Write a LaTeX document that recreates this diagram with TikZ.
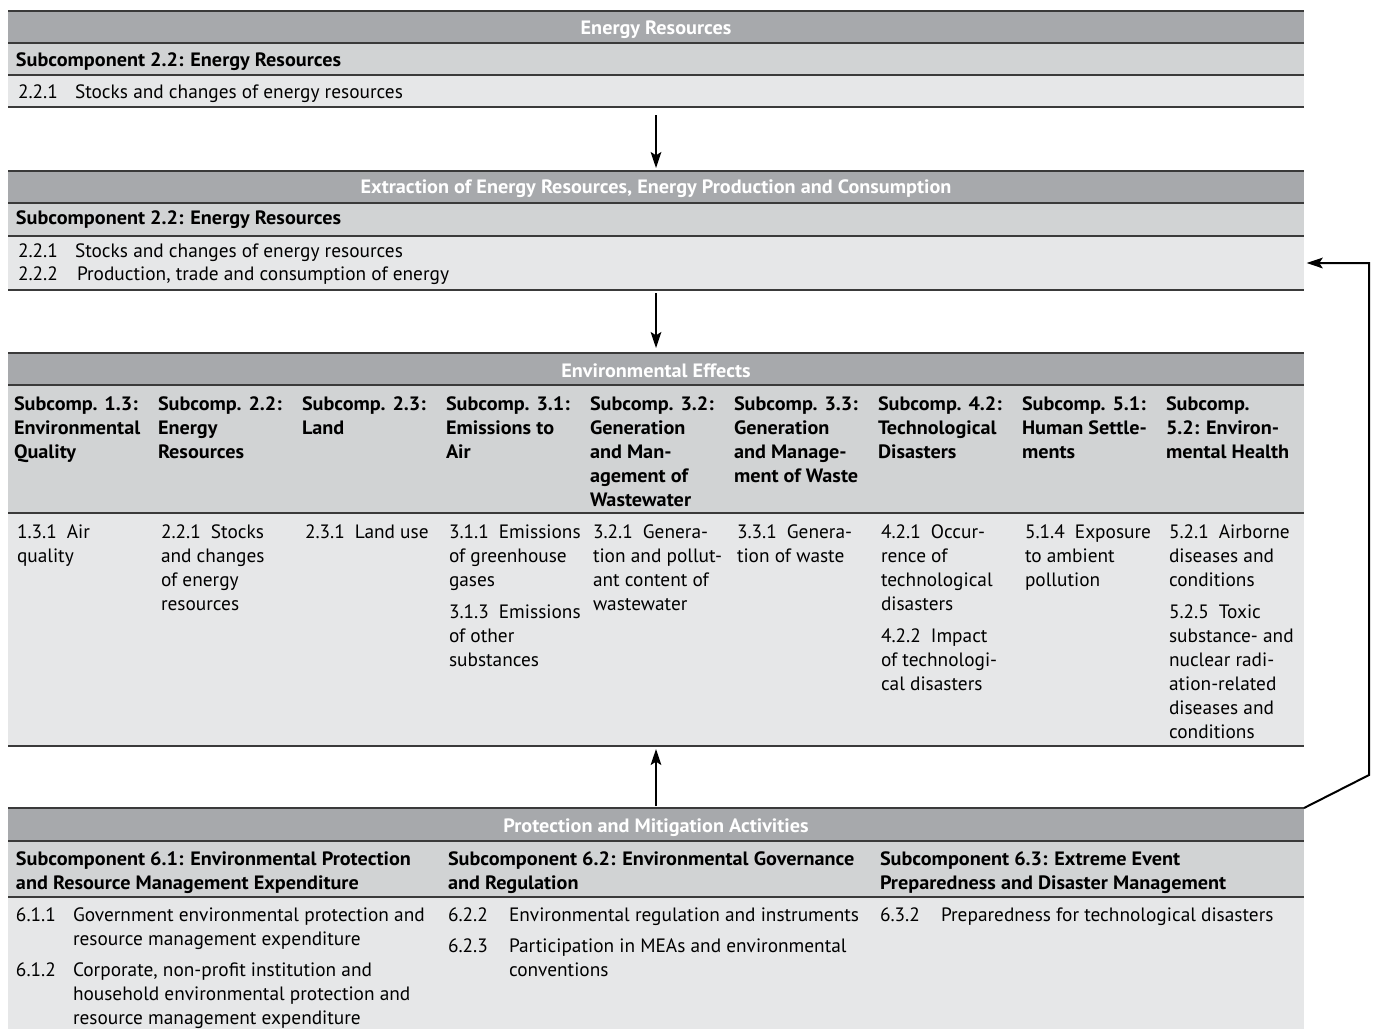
\documentclass[tikz,border=0pt]{standalone}
\usepackage{fontspec}
\setmainfont{PT Sans}[BoldFeatures={FakeStretch=1.046}]
\usetikzlibrary{arrows.meta}

\definecolor{bandgray}{HTML}{A7A9AC}
\definecolor{subgray}{HTML}{D1D3D4}
\definecolor{itemgray}{HTML}{E6E7E8}
\definecolor{rulegray}{HTML}{3A3A3A}

\newcommand\cellstrut{\rule{0pt}{13.5pt}}
\newcommand\numgap{\hspace{7.5pt}}
\newcommand\tabfont{\fontsize{14.5pt}{18pt}\selectfont}

\tikzset{
  rowfill/.style={inner sep=0pt, outer sep=0pt, anchor=north west, minimum width=972pt, draw=none},
  band/.style={rowfill, fill=bandgray},
  subrow/.style={rowfill, fill=subgray},
  itemrow/.style={rowfill, fill=itemgray},
  rowrule/.style={draw=rulegray, line width=1.1pt},
  txt/.style={inner sep=0pt, outer sep=0pt, anchor=base west, font=\tabfont},
  btxt/.style={txt, font=\tabfont\bfseries},
  title/.style={btxt, anchor=base, text=white},
  cell/.style={inner sep=0pt, outer sep=0pt, anchor=north west, align=left, font=\tabfont},
  bcell/.style={cell, font=\tabfont\bfseries},
  flow/.style={draw=black, line width=1.5pt, -{Stealth[length=12pt,width=8pt,inset=2.5pt]}},
}

\begin{document}
\begin{tikzpicture}[x=0.75pt, y=-0.75pt]
\useasboundingbox (0,0) rectangle (1373,1029);

% ---------- Energy Resources ----------
\node[band,    minimum height=24pt] (resH) at (8,11) {};
\node[subrow,  minimum height=24pt] (resS) at (8,43) {};
\node[itemrow, minimum height=24pt] (resI) at (8,75) {};
\node[title] (resT) at (656,34) {Energy Resources};
\node[btxt] (resSt) at (16,66) {Subcomponent 2.2: Energy Resources};
\node[txt] (resN1) at (18,98) {2.2.1};
\node[txt] (resI1) at (75,98) {Stocks and changes of energy resources};

% ---------- Extraction / production / consumption ----------
\node[band,    minimum height=24pt]   (extH) at (8,171) {};
\node[subrow,  minimum height=24.75pt] (extS) at (8,203) {};
\node[itemrow, minimum height=40.5pt] (extI) at (8,236) {};
\node[title] (extT) at (656,193) {Extraction of Energy Resources, Energy Production and Consumption};
\node[btxt] (extSt) at (16,224) {Subcomponent 2.2: Energy Resources};
\node[txt] (extN1) at (18,257) {2.2.1};
\node[txt] (extI1) at (75,257) {Stocks and changes of energy resources};
\node[txt] (extN2) at (18,280) {2.2.2};
\node[txt] (extI2) at (77,280) {Production, trade and consumption of energy};

% ---------- Environmental effects ----------
\node[band,    minimum height=24pt]     (effH) at (8,353) {};
\node[subrow,  minimum height=96pt]     (effS) at (8,385) {};
\node[itemrow, minimum height=174.75pt] (effI) at (8,513) {};
\node[title] (effT) at (656,377) {Environmental Effects};

\node[bcell] (h1) at (14,392)  {\cellstrut Subcomp. 1.3:\\Environmental\\Quality};
\node[bcell] (h2) at (158,392) {\cellstrut Subcomp. 2.2:\\Energy\\Resources};
\node[bcell] (h3) at (302,392) {\cellstrut Subcomp. 2.3:\\Land};
\node[bcell] (h4) at (446,392) {\cellstrut Subcomp. 3.1:\\Emissions to\\Air};
\node[bcell] (h5) at (590,392) {\cellstrut Subcomp. 3.2:\\Generation\\and Man-\\agement of\\Wastewater};
\node[bcell] (h6) at (734,392) {\cellstrut Subcomp. 3.3:\\Generation\\and Manage-\\ment of Waste};
\node[bcell] (h7) at (878,392) {\cellstrut Subcomp. 4.2:\\Technological\\Disasters};
\node[bcell] (h8) at (1022,392) {\cellstrut Subcomp. 5.1:\\Human Settle-\\ments};
\node[bcell] (h9) at (1166,392) {\cellstrut Subcomp.\\5.2: Environ-\\mental Health};

\node[cell] (i1) at (17,520)  {\cellstrut 1.3.1\numgap Air\\quality};
\node[cell] (i2) at (161,520) {\cellstrut 2.2.1\numgap Stocks\\and changes\\of energy\\resources};
\node[cell] (i3) at (305,520) {\cellstrut 2.3.1\numgap Land use};
\node[cell] (i4) at (449,520) {\cellstrut 3.1.1\numgap Emissions\\of greenhouse\\gases\\[6pt]3.1.3\numgap Emissions\\of other\\substances};
\node[cell] (i5) at (593,520) {\cellstrut 3.2.1\numgap Genera-\\tion and pollut-\\ant content of\\wastewater};
\node[cell] (i6) at (737,520) {\cellstrut 3.3.1\numgap Genera-\\tion of waste};
\node[cell] (i7) at (881,520) {\cellstrut 4.2.1\numgap Occur-\\rence of\\technological\\disasters\\[6pt]4.2.2\numgap Impact\\of technologi-\\cal disasters};
\node[cell] (i8) at (1025,520) {\cellstrut 5.1.4\numgap Exposure\\to ambient\\pollution};
\node[cell] (i9) at (1169,520) {\cellstrut 5.2.1\numgap Airborne\\diseases and\\conditions\\[6pt]5.2.5\numgap Toxic\\substance- and\\nuclear radi-\\ation-related\\diseases and\\conditions};

% ---------- Protection and mitigation ----------
\node[band,    minimum height=24.75pt] (proH) at (8,808) {};
\node[subrow,  minimum height=42pt]    (proS) at (8,841) {};
\node[itemrow, minimum height=99pt]    (proI) at (8,897) {};
\node[title] (proT) at (656,832) {Protection and Mitigation Activities};

\node[bcell] (ph1) at (16,847)  {\cellstrut Subcomponent 6.1: Environmental Protection\\and Resource Management Expenditure};
\node[bcell] (ph2) at (448,847) {\cellstrut Subcomponent 6.2: Environmental Governance\\and Regulation};
\node[bcell] (ph3) at (880,847) {\cellstrut Subcomponent 6.3: Extreme Event\\Preparedness and Disaster Management};

\node[txt]  (pn1) at (16,921) {6.1.1};
\node[cell] (pi1) at (73,903) {\cellstrut Government environmental protection and\\resource management expenditure};
\node[txt]  (pn2) at (16,976) {6.1.2};
\node[cell] (pi2) at (73,958) {\cellstrut Corporate, non-profit institution and\\household environmental protection and\\resource management expenditure};
\node[txt]  (pn3) at (448,921) {6.2.2};
\node[txt]  (pi3) at (509,921) {Environmental regulation and instruments};
\node[txt]  (pn4) at (448,952) {6.2.3};
\node[cell] (pi4) at (509,934) {\cellstrut Participation in MEAs and environmental\\conventions};
\node[txt]  (pn5) at (880,921) {6.3.2};
\node[txt]  (pi5) at (941,921) {Preparedness for technological disasters};

% ---------- row rules ----------
\foreach \r in {resH,extH,effH,proH}
  \draw[rowrule] (\r.north west) -- (\r.north east);
\foreach \r in {resH,resS,resI,extH,extS,extI,effH,effS,effI,proH,proS}
  \draw[rowrule] (\r.south west) -- (\r.south east);

% ---------- connectors ----------
\draw[flow, shorten <=6pt, shorten >=2.25pt] (resI.south) -- (extH.north);
\draw[flow, shorten <=2.25pt, shorten >=3.75pt] (extI.south) -- (effH.north);
\draw[flow, shorten <=1.5pt, shorten >=2.25pt] (proH.north) -- (effI.south);
\coordinate (loop) at (1369,775);
\draw[flow, line join=miter, shorten >=2pt] (proH.north east) -- (loop) |- (extI.east);

\end{tikzpicture}
\end{document}
